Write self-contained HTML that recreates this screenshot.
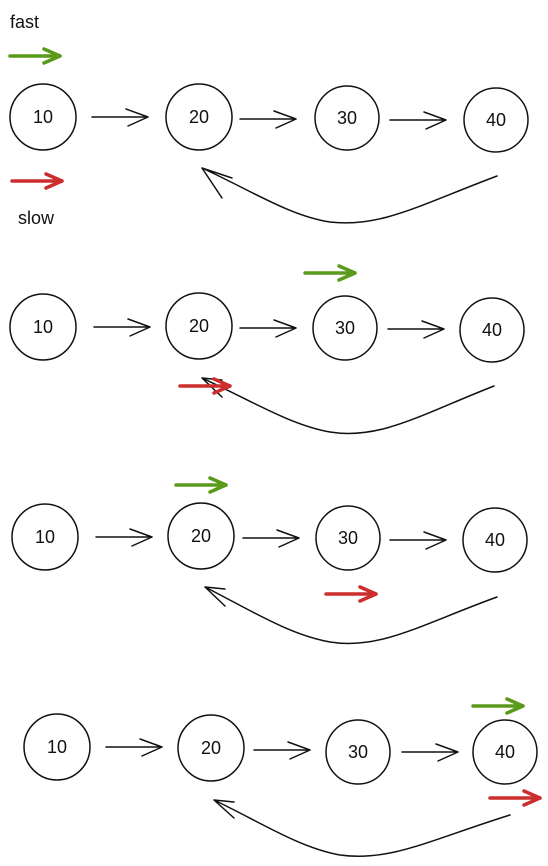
<!DOCTYPE html>
<html><head><meta charset="utf-8"><style>
html,body{margin:0;padding:0;background:#fff;width:548px;height:866px;overflow:hidden}
text{font-family:"Liberation Sans",sans-serif;font-size:18px;fill:#111}
</style></head><body>
<svg width="548" height="866" viewBox="0 0 548 866" xmlns="http://www.w3.org/2000/svg" fill="none" stroke="#111" stroke-width="1.5" stroke-linecap="round">
<defs>
<g id="ar"><path d="M0 0 H56 M56 0 L34 -8 M56 0 L36 9"/></g>
<g id="ga"><path d="M0 0 H50 M50 0 L34 -7 M50 0 L34 7" stroke="#5a9a1a" stroke-width="3.5"/></g>
<g id="ra"><path d="M0 0 H50 M50 0 L34 -7 M50 0 L34 7" stroke="#cc2e2e" stroke-width="3.5"/></g>
</defs>
<text x="10" y="28" stroke="none">fast</text>
<use href="#ga" x="10" y="56"/>
<use href="#ra" x="12" y="181"/>
<text x="18" y="224" stroke="none">slow</text>

<!-- row1 -->
<circle cx="43" cy="117" r="33"/><circle cx="199" cy="117" r="33"/><circle cx="347" cy="118" r="32"/><circle cx="496" cy="120" r="32"/>
<g stroke="none" text-anchor="middle"><text x="43" y="123">10</text><text x="199" y="123">20</text><text x="347" y="124">30</text><text x="496" y="126">40</text></g>
<use href="#ar" x="92" y="117"/><use href="#ar" x="240" y="119"/><use href="#ar" x="390" y="120"/>
<path d="M497 176 C420 205 380 228 330 222 C290 216 250 190 202 168 M202 168 L232 178 M202 168 L222 198"/>

<!-- row2 -->
<circle cx="43" cy="327" r="33"/><circle cx="199" cy="326" r="33"/><circle cx="345" cy="328" r="32"/><circle cx="492" cy="330" r="32"/>
<g stroke="none" text-anchor="middle"><text x="43" y="333">10</text><text x="199" y="332">20</text><text x="345" y="334">30</text><text x="492" y="336">40</text></g>
<use href="#ar" x="94" y="327"/><use href="#ar" x="240" y="328"/><use href="#ar" x="388" y="329"/>
<use href="#ga" x="305" y="273"/>
<path d="M494 386 C420 415 380 440 330 432 C290 425 250 400 202 378 M202 378 L222 380 M202 378 L222 397"/>
<use href="#ra" x="180" y="386"/>

<!-- row3 -->
<circle cx="45" cy="537" r="33"/><circle cx="201" cy="536" r="33"/><circle cx="348" cy="538" r="32"/><circle cx="495" cy="540" r="32"/>
<g stroke="none" text-anchor="middle"><text x="45" y="543">10</text><text x="201" y="542">20</text><text x="348" y="544">30</text><text x="495" y="546">40</text></g>
<use href="#ar" x="96" y="537"/><use href="#ar" x="243" y="538"/><use href="#ar" x="390" y="540"/>
<use href="#ga" x="176" y="485"/>
<use href="#ra" x="326" y="594"/>
<path d="M497 597 C420 625 380 650 330 642 C290 635 250 610 205 587 M205 587 L225 589 M205 587 L225 606"/>

<!-- row4 -->
<circle cx="57" cy="747" r="33"/><circle cx="211" cy="748" r="33"/><circle cx="358" cy="752" r="32"/><circle cx="505" cy="752" r="32"/>
<g stroke="none" text-anchor="middle"><text x="57" y="753">10</text><text x="211" y="754">20</text><text x="358" y="758">30</text><text x="505" y="758">40</text></g>
<use href="#ar" x="106" y="747"/><use href="#ar" x="254" y="750"/><use href="#ar" x="402" y="752"/>
<use href="#ga" x="473" y="706"/>
<use href="#ra" x="490" y="798"/>
<path d="M510 815 C430 840 390 862 340 855 C300 848 260 822 214 800 M214 800 L234 802 M214 800 L234 818"/>
</svg>
</body></html>
